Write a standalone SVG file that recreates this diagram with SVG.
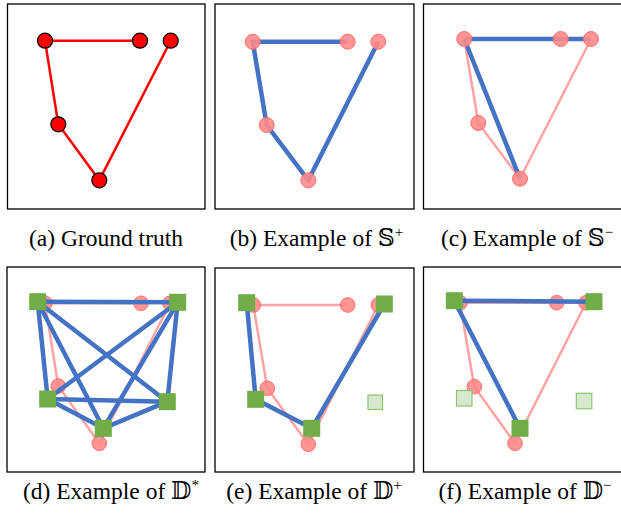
<svg xmlns="http://www.w3.org/2000/svg" width="621" height="513" viewBox="0 0 621 513">
<style>
.box{fill:#fff;stroke:#000;stroke-width:1.3}
.red{stroke:#ff0000;stroke-width:2.5;fill:none;stroke-linecap:round}
.rn{fill:#ff0000;stroke:#000;stroke-width:1.2}
.pl{stroke:#ffa3a3;stroke-width:2.5;fill:none}
.pn{fill:#ff8a8a;stroke:#ff6e6e;stroke-width:1;fill-opacity:0.9}
.bl{stroke:#4472c4;stroke-width:4.5;fill:none}
.gs{fill:#70ad47}
.lg{fill:#d6e9cf;stroke:#8cc46e;stroke-width:1.2}
.cap{font-family:"Liberation Serif","DejaVu Serif",serif;font-size:23.5px;fill:#000;text-anchor:middle}
.sup{font-size:15px}
</style>
<g id="frames">
<rect class="box" x="7.5" y="4" width="197.5" height="205"/>
<rect class="box" x="215" y="4" width="199" height="205"/>
<rect class="box" x="423.5" y="4" width="200" height="205"/>
<rect class="box" x="7" y="267" width="198" height="205"/>
<rect class="box" x="215" y="268" width="199" height="204"/>
<rect class="box" x="423.5" y="267" width="200" height="205"/>
</g>
<g id="connectors">
<polyline class="red" points="140,40.7 45,40.7 58.3,124.3 99.3,180.3 170.7,40.7"/>
<polyline class="bl" points="347.7,41.7 252.7,41.7 266.7,125 308.3,180.3 378.3,41.7"/>
<polyline class="pl" points="464.3,39 478.3,123 520,178.7 591,39"/>
<line class="bl" x1="464.3" y1="39" x2="591" y2="39"/>
<line class="bl" x1="464.3" y1="39" x2="520" y2="178.7"/>
<polyline class="pl" points="141,303.3 45,303.3 58.3,386 99.3,443.3 170,303.3"/>
<polyline class="pl" points="347.7,305 253.3,305 267.3,388.3 308.3,444.3 378.3,305"/>
<polyline class="pl" points="586,302.7 460,302.7 474.3,386.7 515,443.3 586,302.7"/>
</g>
<g id="nodes-a">
<circle class="rn" cx="45" cy="40.7" r="7.5"/>
<circle class="rn" cx="140" cy="40.7" r="7.5"/>
<circle class="rn" cx="170.7" cy="40.7" r="7.5"/>
<circle class="rn" cx="58.3" cy="124.3" r="7.5"/>
<circle class="rn" cx="99.3" cy="180.3" r="7.5"/>
</g>
<g id="nodes-b">
<circle class="pn" cx="252.7" cy="41.7" r="7.5"/>
<circle class="pn" cx="347.7" cy="41.7" r="7.5"/>
<circle class="pn" cx="378.3" cy="41.7" r="7.5"/>
<circle class="pn" cx="266.7" cy="125" r="7.5"/>
<circle class="pn" cx="308.3" cy="180.3" r="7.5"/>
</g>
<g id="nodes-c">
<circle class="pn" cx="464.3" cy="39" r="7.5"/>
<circle class="pn" cx="560.7" cy="39" r="7.5"/>
<circle class="pn" cx="591" cy="39" r="7.5"/>
<circle class="pn" cx="478.3" cy="123" r="7.5"/>
<circle class="pn" cx="520" cy="178.7" r="7.5"/>
</g>
<g id="nodes-d-pink">
<circle class="pn" cx="45" cy="303.3" r="7.3"/>
<circle class="pn" cx="141" cy="303.3" r="7.3"/>
<circle class="pn" cx="170" cy="303.3" r="7.3"/>
<circle class="pn" cx="58.3" cy="386" r="7.3"/>
<circle class="pn" cx="99.3" cy="443.3" r="7.3"/>
</g>
<g id="nodes-e-pink">
<circle class="pn" cx="253.3" cy="305" r="7.3"/>
<circle class="pn" cx="347.7" cy="305" r="7.3"/>
<circle class="pn" cx="378.3" cy="305" r="7.3"/>
<circle class="pn" cx="267.3" cy="388.3" r="7.3"/>
<circle class="pn" cx="308.3" cy="444.3" r="7.3"/>
</g>
<g id="nodes-f-pink">
<circle class="pn" cx="460" cy="302.7" r="7.3"/>
<circle class="pn" cx="556.7" cy="302.7" r="7.3"/>
<circle class="pn" cx="586" cy="302.7" r="7.3"/>
<circle class="pn" cx="474.3" cy="386.7" r="7.3"/>
<circle class="pn" cx="515" cy="443.3" r="7.3"/>
</g>
<g id="connectors-predicted">
<line class="bl" x1="37.7" y1="301.7" x2="177.7" y2="302.3"/>
<line class="bl" x1="37.7" y1="301.7" x2="47.7" y2="399"/>
<line class="bl" x1="37.7" y1="301.7" x2="103.3" y2="428.3"/>
<line class="bl" x1="37.7" y1="301.7" x2="167.3" y2="401.7"/>
<line class="bl" x1="177.7" y1="302.3" x2="47.7" y2="399"/>
<line class="bl" x1="177.7" y1="302.3" x2="103.3" y2="428.3"/>
<line class="bl" x1="177.7" y1="302.3" x2="167.3" y2="401.7"/>
<line class="bl" x1="47.7" y1="399" x2="167.3" y2="401.7"/>
<line class="bl" x1="47.7" y1="399" x2="103.3" y2="428.3"/>
<line class="bl" x1="103.3" y1="428.3" x2="167.3" y2="401.7"/>
<polyline class="bl" points="246.7,302.7 255.7,399.3 311.7,428.3 384.3,304"/>
<line class="bl" x1="454.3" y1="300.7" x2="594" y2="301.7"/>
<line class="bl" x1="454.3" y1="300.7" x2="520" y2="428.3"/>
</g>
<g id="nodes-d-green">
<rect class="gs" x="29.2" y="293.2" width="17" height="17"/>
<rect class="gs" x="169.2" y="293.8" width="17" height="17"/>
<rect class="gs" x="39.2" y="390.5" width="17" height="17"/>
<rect class="gs" x="158.8" y="393.2" width="17" height="17"/>
<rect class="gs" x="94.8" y="419.8" width="17" height="17"/>
</g>
<g id="nodes-e-green">
<rect class="gs" x="238.2" y="294.2" width="17" height="17"/>
<rect class="gs" x="375.8" y="295.5" width="17" height="17"/>
<rect class="gs" x="247.2" y="390.8" width="17" height="17"/>
<rect class="gs" x="303.2" y="419.8" width="17" height="17"/>
<rect class="lg" x="368" y="395" width="14.5" height="14.5"/>
</g>
<g id="nodes-f-green">
<rect class="gs" x="445.8" y="292.2" width="17" height="17"/>
<rect class="gs" x="585.5" y="293.2" width="17" height="17"/>
<rect class="gs" x="511.5" y="419.8" width="17" height="17"/>
<rect class="lg" x="456.5" y="390.5" width="15.5" height="15.5"/>
<rect class="lg" x="576.3" y="393.3" width="15.5" height="15.5"/>
</g>
<g id="captions">
<text class="cap" x="106" y="246">(a) Ground truth</text>
<text class="cap" x="316.5" y="246">(b) Example of 𝕊<tspan class="sup" dy="-9">+</tspan></text>
<text class="cap" x="527" y="246">(c) Example of 𝕊<tspan class="sup" dy="-9">−</tspan></text>
<text class="cap" x="111" y="499">(d) Example of 𝔻<tspan class="sup" dy="-9">*</tspan></text>
<text class="cap" x="314" y="499">(e) Example of 𝔻<tspan class="sup" dy="-9">+</tspan></text>
<text class="cap" x="525" y="499">(f) Example of 𝔻<tspan class="sup" dy="-9">−</tspan></text>
</g>
</svg>
